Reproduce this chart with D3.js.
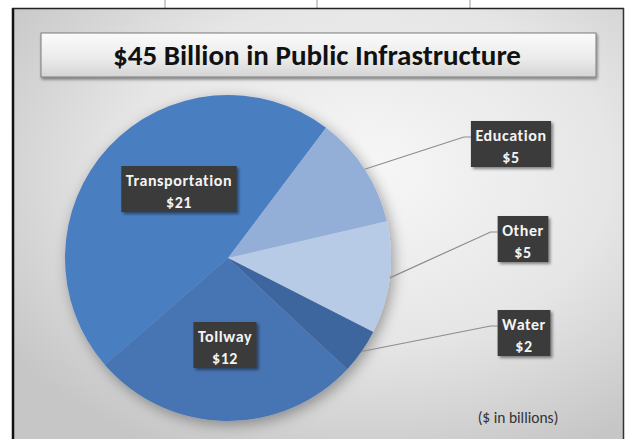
<!DOCTYPE html>
<html>
<head>
<meta charset="utf-8">
<script src="https://cdn.jsdelivr.net/npm/d3@7"></script>
<style>
  html, body { margin: 0; padding: 0; background: #ffffff; }
  svg { display: block; }
</style>
</head>
<body>
<svg id="chart" width="630" height="439"></svg>
<script>
// Infrastructure spending by category ($ billions), in clockwise drawing order
const categories = ["Transportation", "Education", "Other", "Water", "Tollway"];
const values = [21, 5, 5, 2, 12];
const sliceColors = ["#4a7ec0", "#93afd8", "#b8cbe6", "#3c669f", "#4675b3"];
const titleText = "$45 Billion in Public Infrastructure";
const unitNote = "($ in billions)";

// Label box centres; outside labels get a leader line from the slice edge
const labelLayout = {
  "Transportation": { x: 179, y: 189, outside: false },
  "Education":      { x: 511, y: 144, outside: true },
  "Other":          { x: 523, y: 239, outside: true },
  "Water":          { x: 524, y: 333, outside: true },
  "Tollway":        { x: 225, y: 345, outside: false }
};

const W = 630, H = 439;
const svg = d3.select("#chart");
const defs = svg.append("defs");

// background gradient of the chart area
const bg = defs.append("radialGradient").attr("id", "bgGrad")
  .attr("cx", "58%").attr("cy", "38%").attr("r", "72%");
bg.append("stop").attr("offset", "0%").attr("stop-color", "#f7f7f7");
bg.append("stop").attr("offset", "55%").attr("stop-color", "#e6e6e6");
bg.append("stop").attr("offset", "100%").attr("stop-color", "#c6c6c6");

const tg = defs.append("linearGradient").attr("id", "titleGrad")
  .attr("x1", 0).attr("y1", 0).attr("x2", 0).attr("y2", 1);
tg.append("stop").attr("offset", "0%").attr("stop-color", "#fbfbfb");
tg.append("stop").attr("offset", "60%").attr("stop-color", "#eaeaea");
tg.append("stop").attr("offset", "100%").attr("stop-color", "#d4d4d4");

function shadow(id, dx, dy, sd, op) {
  const f = defs.append("filter").attr("id", id)
    .attr("x", "-30%").attr("y", "-30%").attr("width", "160%").attr("height", "160%");
  f.append("feDropShadow").attr("dx", dx).attr("dy", dy)
    .attr("stdDeviation", sd).attr("flood-color", "#000").attr("flood-opacity", op);
}
shadow("pieShadow", 3, 4, 7, 0.35);
shadow("boxShadow", 2, 2, 1.6, 0.45);
shadow("titleShadow", 1, 2, 1.5, 0.45);

// small rule marks above the frame
svg.selectAll("line.rule").data([165, 317, 470]).enter().append("line")
  .attr("x1", d => d).attr("x2", d => d).attr("y1", 0).attr("y2", 8)
  .attr("stroke", "#9a9a9a").attr("stroke-width", 1);

// chart area and its frame
svg.append("rect").attr("x", 12).attr("y", 8).attr("width", 612).attr("height", H - 8)
  .attr("fill", "url(#bgGrad)");
svg.append("line").attr("x1", 13).attr("x2", 13).attr("y1", 8).attr("y2", H)
  .attr("stroke", "#111").attr("stroke-width", 2.5);
svg.append("line").attr("x1", 12).attr("x2", 624).attr("y1", 8.5).attr("y2", 8.5)
  .attr("stroke", "#222").attr("stroke-width", 1.5);
svg.append("line").attr("x1", 623.5).attr("x2", 623.5).attr("y1", 8).attr("y2", H)
  .attr("stroke", "#333").attr("stroke-width", 1.5);

// title banner
svg.append("rect").attr("x", 41).attr("y", 33).attr("width", 555).attr("height", 44)
  .attr("fill", "url(#titleGrad)").attr("stroke", "#7d7d7d").attr("stroke-width", 1)
  .attr("filter", "url(#titleShadow)");
svg.append("text").attr("x", 317).attr("y", 65)
  .attr("text-anchor", "middle")
  .style("font-family", "Carlito, 'Liberation Sans Narrow', 'Open Sans', sans-serif")
  .style("font-weight", "bold").style("font-size", "29px").attr("fill", "#111")
  .attr("textLength", 408).attr("lengthAdjust", "spacingAndGlyphs")
  .text(titleText);

// pie
const cx = 228, cy = 258, R = 163;
const deg = Math.PI / 180;
const start = -131 * deg;
const pie = d3.pie().sort(null).value(d => d.value)
  .startAngle(start).endAngle(start + 2 * Math.PI);
const data = categories.map((c, i) => ({ name: c, value: values[i], color: sliceColors[i] }));
const arcs = pie(data);
const arc = d3.arc().innerRadius(0).outerRadius(R);

const pg = svg.append("g").attr("transform", `translate(${cx},${cy})`)
  .attr("filter", "url(#pieShadow)");
pg.selectAll("path").data(arcs).enter().append("path")
  .attr("d", arc).attr("fill", d => d.data.color);

// data labels (dark boxes) and leader lines for the outside ones
const labelFont = "Carlito, 'Open Sans', sans-serif";
const labels = svg.append("g");

arcs.forEach(a => {
  const L = labelLayout[a.data.name];
  const mid = (a.startAngle + a.endAngle) / 2;
  const lines = [a.data.name, "$" + a.data.value];

  const g = labels.append("g");
  const rect = g.append("rect").attr("fill", "#3a3a3a").attr("filter", "url(#boxShadow)");
  const texts = g.selectAll("text").data(lines).enter().append("text")
    .attr("x", L.x).attr("y", (d, i) => L.y - 3 + i * 22)
    .attr("text-anchor", "middle").attr("fill", "#f4f4f4")
    .style("font-family", labelFont).style("font-weight", "bold")
    .style("font-size", "16px").style("letter-spacing", "0.6px")
    .text(d => d);

  let tw = 0;
  texts.each(function () { tw = Math.max(tw, this.getComputedTextLength()); });
  const bw = tw + 9, bh = 46;
  rect.attr("x", L.x - bw / 2).attr("y", L.y - bh / 2).attr("width", bw).attr("height", bh);

  if (L.outside) {
    const sx = cx + R * Math.sin(mid), sy = cy - R * Math.cos(mid);
    const ex = L.x - bw / 2, ey = L.y - 7;
    labels.insert("polyline", ":first-child")
      .attr("points", [[sx, sy], [ex - 7, ey], [ex, ey]].map(p => p.join(",")).join(" "))
      .attr("fill", "none").attr("stroke", "#8c8c8c").attr("stroke-width", 1.2);
  }
});

// unit note
svg.append("text").attr("x", 518).attr("y", 423).attr("text-anchor", "middle")
  .style("font-family", labelFont).style("font-size", "15.5px").attr("fill", "#333")
  .text(unitNote);
</script>
</body>
</html>
